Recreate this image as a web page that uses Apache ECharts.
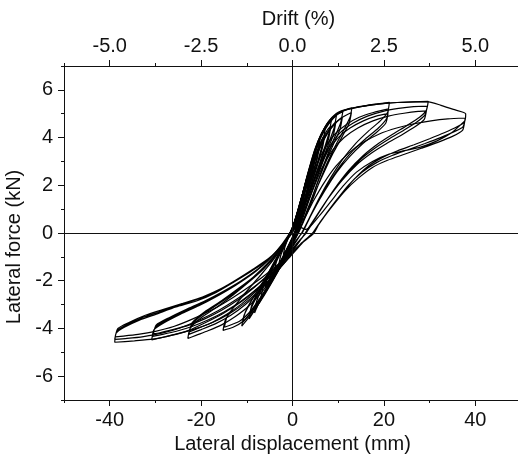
<!DOCTYPE html>
<html>
<head>
<meta charset="utf-8">
<script src="https://cdn.jsdelivr.net/npm/echarts@6/dist/echarts.min.js"></script>
<style>
  html, body { margin: 0; padding: 0; background: #fff; }
  #chart { width: 518px; height: 459px; }
</style>
</head>
<body>
<div id="chart"></div>
<script>
// Cyclic lateral load test: displacement (mm) vs lateral force (kN), one path per amplitude level.
const loop02mm = [[0,0],[0.8,0.6],[1.5,1.05],[2.0,1.3],[1.7,0.95],[1.1,0.45],[0.5,0],[-0.4,-0.35],[-1.3,-0.7],[-2.0,-0.95],[-1.7,-0.6],[-1.0,-0.25],[-0.4,0.05],
  [0.6,0.5],[1.4,0.95],[2.0,1.2],[1.6,0.85],[0.9,0.3],[0.4,0],[-0.6,-0.4],[-1.4,-0.72],[-2.0,-0.9],[-1.6,-0.55],[-0.9,-0.2],[-0.3,0.05]];

const loop03mm = [[-0.2,0.05],[0.7,0.65],[1.6,1.25],[2.4,1.75],[3.0,2.1],[2.6,1.6],[1.8,0.95],[0.9,0.3],[0.4,0],[-0.7,-0.5],[-1.8,-0.95],[-2.5,-1.2],[-3.0,-1.38],[-2.6,-0.95],[-1.6,-0.5],[-0.6,-0.05],[0.2,0.3],
  [1.0,0.85],[1.9,1.4],[2.5,1.75],[3.0,1.98],[2.5,1.45],[1.6,0.8],[0.8,0.2],[0.3,-0.05],[-0.8,-0.55],[-1.9,-0.98],[-3.0,-1.32],[-2.5,-0.9],[-1.5,-0.45],[-0.5,0],[0,0.15]];

const loop04mm = [[-0.3,0.05],[0.8,0.7],[2.0,1.5],[3.2,2.2],[4.0,2.7],[3.6,2.2],[2.6,1.4],[1.5,0.6],[0.6,0],[-0.8,-0.55],[-2.2,-1.05],[-3.3,-1.4],[-4.0,-1.65],[-3.5,-1.2],[-2.3,-0.7],[-1.0,-0.2],[-0.2,0.1],
  [1.0,0.75],[2.2,1.5],[3.3,2.1],[4.0,2.5],[3.5,2.0],[2.4,1.2],[1.3,0.45],[0.5,0],[-1.0,-0.6],[-2.4,-1.1],[-3.4,-1.42],[-4.0,-1.58],[-3.4,-1.1],[-2.1,-0.6],[-0.9,-0.15],[-0.2,0.1]];

const loop05mm = [[0,0.15],[1.0,0.8],[2.2,1.65],[3.4,2.45],[4.3,3.0],[5.0,3.35],[4.5,2.8],[3.5,2.0],[2.3,1.1],[1.2,0.35],[0.6,0],[-0.9,-0.6],[-2.3,-1.15],[-3.6,-1.6],[-4.4,-1.85],[-5.0,-2.0],[-4.4,-1.5],[-3.1,-0.95],[-1.7,-0.45],[-0.5,0],[0.2,0.3],
  [1.3,0.95],[2.5,1.75],[3.6,2.45],[4.4,2.9],[5.0,3.15],[4.4,2.55],[3.3,1.75],[2.1,0.9],[1.0,0.2],[0.5,0],[-1.0,-0.62],[-2.5,-1.2],[-3.8,-1.62],[-5.0,-1.95],[-4.3,-1.42],[-2.9,-0.85],[-1.5,-0.35],[-0.4,0.05],[0.1,0.25]];

const loop06mm = [[-0.2,0.1],[1.2,0.9],[2.6,1.9],[4.0,2.85],[5.2,3.5],[6.0,3.9],[5.5,3.3],[4.3,2.4],[2.9,1.4],[1.5,0.5],[0.7,0],[-1.0,-0.6],[-2.6,-1.2],[-4.2,-1.75],[-5.3,-2.1],[-6.0,-2.3],[-5.4,-1.8],[-3.9,-1.2],[-2.2,-0.6],[-0.8,-0.1],[0,0.2],
  [1.4,1.0],[2.8,1.95],[4.2,2.8],[5.3,3.35],[6.0,3.7],[5.4,3.1],[4.1,2.2],[2.7,1.2],[1.4,0.4],[0.6,0],[-1.2,-0.65],[-2.9,-1.3],[-4.5,-1.82],[-6.0,-2.22],[-5.3,-1.7],[-3.7,-1.1],[-2.0,-0.5],[-0.6,0],[0.1,0.25]];

const loop07mm = [[0.1,0.2],[1.4,1.05],[2.8,2.05],[4.2,3.0],[5.5,3.8],[6.4,4.2],[7.2,4.45],[6.7,3.85],[5.6,3.05],[4.2,2.15],[2.8,1.2],[1.5,0.4],[0.8,0],[-0.8,-0.65],[-2.5,-1.3],[-4.2,-1.9],[-5.7,-2.4],[-7.0,-2.8],[-6.4,-2.25],[-4.8,-1.6],[-3.0,-0.95],[-1.4,-0.35],[-0.3,0.1],
  [1.2,0.85],[2.7,1.85],[4.2,2.8],[5.6,3.55],[6.5,3.95],[7.1,4.15],[6.6,3.6],[5.4,2.8],[4.0,1.95],[2.6,1.05],[1.4,0.3],[0.8,0],[-0.9,-0.68],[-2.7,-1.35],[-4.5,-1.95],[-6.0,-2.45],[-6.9,-2.7],[-6.2,-2.15],[-4.6,-1.5],[-2.8,-0.88],[-1.2,-0.3],[-0.1,0.15]];

const loop08mm = [[0.1,0.25],[1.5,1.1],[3.0,2.15],[4.5,3.1],[6.0,3.95],[7.3,4.45],[8.5,4.72],[8.0,4.2],[6.8,3.45],[5.3,2.55],[3.7,1.6],[2.2,0.7],[1.0,0],
  [-0.8,-0.7],[-2.6,-1.35],[-4.4,-1.95],[-6.2,-2.55],[-7.5,-3.0],[-8.3,-3.35],[-7.9,-2.9],[-6.6,-2.3],[-4.8,-1.6],[-3.0,-0.95],[-1.3,-0.3],[-0.2,0.15],
  [1.3,0.9],[2.9,1.95],[4.5,2.95],[6.0,3.7],[7.4,4.25],[8.4,4.5],[7.9,3.95],[6.5,3.15],[5.0,2.3],[3.4,1.4],[1.9,0.55],[0.9,0],
  [-0.9,-0.7],[-2.8,-1.4],[-4.7,-2.0],[-6.5,-2.6],[-8.2,-3.2],[-7.7,-2.75],[-6.3,-2.15],[-4.5,-1.5],[-2.7,-0.85],[-1.1,-0.25],[0,0.2]];

const loop09mm = [[0,0.2],[1.5,1.12],[3.0,2.2],[4.6,3.2],[6.1,4.0],[7.4,4.5],[8.6,4.78],[9.6,4.92],[9.1,4.4],[7.8,3.7],[6.2,2.85],[4.5,1.9],[2.9,1.0],[1.6,0.3],[1.0,0],
  [-0.7,-0.7],[-2.5,-1.35],[-4.4,-2.0],[-6.3,-2.6],[-8.0,-3.15],[-9.5,-3.6],[-9.0,-3.15],[-7.5,-2.55],[-5.6,-1.9],[-3.7,-1.2],[-1.9,-0.55],[-0.5,0],[0.2,0.2],
  [1.6,1.0],[3.2,2.05],[4.8,3.0],[6.4,3.75],[7.9,4.3],[9.5,4.68],[9.0,4.15],[7.6,3.45],[5.9,2.6],[4.2,1.7],[2.6,0.8],[1.4,0.15],[1.0,0],
  [-0.8,-0.7],[-2.7,-1.38],[-4.7,-2.05],[-6.7,-2.65],[-8.5,-3.15],[-9.4,-3.42],[-8.8,-2.95],[-7.2,-2.35],[-5.2,-1.7],[-3.2,-1.0],[-1.5,-0.4],[-0.2,0.1]];

const loop11mm = [[0,0.2],[1.5,1.15],[3.1,2.3],[4.7,3.3],[6.2,4.05],[7.6,4.6],[9.2,4.92],[11.0,5.08],[10.5,4.6],[9.2,4.0],[7.5,3.2],[5.6,2.2],[3.8,1.25],[2.1,0.4],[1.2,0],
  [-0.6,-0.7],[-2.4,-1.35],[-4.3,-2.0],[-6.3,-2.65],[-8.2,-3.2],[-9.8,-3.6],[-11.1,-3.9],[-10.6,-3.45],[-9.0,-2.85],[-7.0,-2.2],[-4.9,-1.55],[-2.9,-0.9],[-1.2,-0.25],[-0.1,0.15],
  [1.4,0.95],[3.0,2.0],[4.7,3.0],[6.3,3.75],[8.0,4.3],[9.6,4.65],[10.9,4.85],[10.4,4.35],[8.9,3.7],[7.1,2.9],[5.2,1.95],[3.4,1.0],[1.9,0.3],[1.1,0],
  [-0.8,-0.7],[-2.7,-1.4],[-4.7,-2.05],[-6.8,-2.7],[-8.8,-3.25],[-10.9,-3.75],[-10.3,-3.3],[-8.6,-2.7],[-6.5,-2.05],[-4.3,-1.35],[-2.3,-0.7],[-0.7,-0.1],[0.1,0.2]];

const loop14mm = [[0.1,0.2],[1.6,1.2],[3.2,2.4],[4.8,3.45],[6.3,4.15],[7.8,4.65],[9.5,5.0],[11.2,5.15],[13.0,5.25],[12.6,4.85],[11.3,4.35],[9.5,3.7],[7.5,2.9],[5.5,1.95],[3.6,1.0],[2.0,0.3],[1.3,0],
  [-0.5,-0.65],[-2.3,-1.3],[-4.3,-1.95],[-6.5,-2.65],[-8.7,-3.25],[-10.8,-3.7],[-13.0,-3.95],[-15.2,-4.08],[-14.7,-3.65],[-12.8,-3.1],[-10.3,-2.5],[-7.6,-1.9],[-5.0,-1.3],[-2.6,-0.7],[-0.9,-0.15],[0.1,0.2],
  [1.6,1.0],[3.3,2.1],[5.0,3.1],[6.7,3.85],[8.5,4.4],[10.5,4.8],[12.9,5.05],[12.4,4.6],[10.9,4.05],[8.9,3.35],[6.8,2.5],[4.7,1.6],[2.9,0.75],[1.5,0.1],[1.0,0],
  [-0.7,-0.68],[-2.6,-1.35],[-4.7,-2.0],[-7.0,-2.7],[-9.3,-3.3],[-11.6,-3.7],[-14.9,-3.95],[-14.3,-3.5],[-12.2,-2.95],[-9.6,-2.35],[-6.9,-1.75],[-4.3,-1.15],[-2.1,-0.55],[-0.6,-0.05],[0.2,0.2]];

const loop22mm = [[0.2,0.2],[1.7,1.25],[3.4,2.5],[5.0,3.55],[6.6,4.25],[8.3,4.75],[10.2,5.05],[12.5,5.2],[15.0,5.3],[18.0,5.4],[21.2,5.48],
  [20.8,5.05],[19.2,4.7],[16.5,4.25],[13.8,3.75],[11.0,3.1],[8.3,2.3],[5.8,1.45],[3.6,0.6],[2.0,0],
  [0.3,-0.5],[-1.7,-1.15],[-4.0,-1.8],[-6.6,-2.45],[-9.5,-3.05],[-12.5,-3.5],[-15.5,-3.85],[-18.5,-4.1],[-21.0,-4.28],[-22.9,-4.42],
  [-22.4,-4.0],[-20.0,-3.55],[-16.5,-3.1],[-13.0,-2.6],[-9.5,-2.05],[-6.3,-1.5],[-3.5,-0.9],[-1.3,-0.3],[0,0.15],
  [1.6,0.85],[3.4,1.85],[5.3,2.85],[7.2,3.6],[9.3,4.15],[11.8,4.55],[14.6,4.85],[17.7,5.05],[21.0,5.2],
  [20.6,4.8],[18.8,4.4],[16.0,3.95],[13.2,3.45],[10.4,2.8],[7.7,2.0],[5.2,1.15],[3.1,0.4],[2.0,0],
  [0.3,-0.45],[-1.9,-1.15],[-4.4,-1.8],[-7.2,-2.45],[-10.3,-3.0],[-13.5,-3.45],[-16.8,-3.8],[-20.0,-4.05],[-22.7,-4.25],
  [-22.1,-3.85],[-19.5,-3.4],[-16.0,-2.95],[-12.4,-2.45],[-9.0,-1.95],[-5.9,-1.4],[-3.2,-0.8],[-1.1,-0.2],[0.2,0.15],
  [1.9,0.8],[3.8,1.75],[5.8,2.7],[7.8,3.45],[10.0,4.0],[12.6,4.4],[15.5,4.7],[18.3,4.9],[20.9,5.0],
  [20.4,4.6],[18.3,4.2],[15.4,3.75],[12.5,3.2],[9.7,2.55],[7.0,1.75],[4.6,0.95],[2.8,0.25],[2.1,0],
  [0.4,-0.4],[-2.1,-1.1],[-4.8,-1.75],[-7.8,-2.4],[-11.0,-2.95],[-14.3,-3.4],[-17.6,-3.75],[-20.5,-3.98],[-22.6,-4.15],
  [-21.9,-3.75],[-19.2,-3.3],[-15.6,-2.85],[-12.0,-2.35],[-8.6,-1.85],[-5.6,-1.3],[-2.9,-0.7],[-0.9,-0.15],[0.3,0.15]];

const loop30mm = [[0.3,0.15],[1.8,1.25],[3.5,2.5],[5.2,3.6],[6.9,4.3],[8.7,4.8],[10.8,5.1],[13.3,5.25],[16.5,5.35],[19.8,5.42],[23.0,5.47],[26.4,5.5],[29.7,5.52],
  [29.3,5.15],[27.8,4.85],[25.0,4.5],[22.0,4.15],[18.8,3.75],[15.5,3.25],[12.2,2.6],[9.0,1.8],[6.2,1.0],[3.8,0.3],[2.8,0],
  [1.0,-0.5],[-1.3,-1.15],[-4.0,-1.75],[-7.0,-2.35],[-10.5,-2.95],[-14.0,-3.4],[-17.5,-3.75],[-21.0,-4.0],[-24.5,-4.2],[-27.8,-4.35],[-30.8,-4.48],
  [-30.3,-4.05],[-28.0,-3.75],[-24.5,-3.4],[-20.5,-3.05],[-16.5,-2.65],[-12.5,-2.2],[-8.7,-1.7],[-5.3,-1.15],[-2.4,-0.5],[-0.4,0.05],[0.5,0.3],
  [2.0,0.85],[3.9,1.85],[5.9,2.85],[8.0,3.6],[10.4,4.2],[13.2,4.6],[16.4,4.9],[19.8,5.1],[23.2,5.22],[26.5,5.3],[29.5,5.32],
  [29.0,4.95],[27.2,4.65],[24.3,4.3],[21.2,3.95],[18.0,3.55],[14.7,3.05],[11.4,2.4],[8.3,1.6],[5.6,0.8],[3.5,0.15],[3.0,0],
  [1.0,-0.45],[-1.5,-1.1],[-4.4,-1.7],[-7.6,-2.3],[-11.2,-2.85],[-14.9,-3.3],[-18.5,-3.65],[-22.0,-3.92],[-25.4,-4.12],[-28.4,-4.25],[-30.6,-4.33],
  [-30.0,-3.95],[-27.5,-3.65],[-23.8,-3.3],[-19.8,-2.95],[-15.8,-2.55],[-11.8,-2.1],[-8.0,-1.6],[-4.8,-1.05],[-2.0,-0.45],[0,0.05],[0.8,0.3],
  [2.3,0.8],[4.3,1.75],[6.4,2.7],[8.7,3.45],[11.3,4.0],[14.3,4.4],[17.6,4.7],[21.0,4.9],[24.4,5.02],[27.5,5.1],[29.3,5.12],
  [28.8,4.75],[26.8,4.45],[23.8,4.1],[20.6,3.75],[17.3,3.35],[14.0,2.85],[10.8,2.2],[7.8,1.45],[5.2,0.7],[3.3,0.1],[3.0,0],
  [1.1,-0.4],[-1.7,-1.05],[-4.8,-1.65],[-8.2,-2.25],[-11.9,-2.8],[-15.6,-3.25],[-19.2,-3.6],[-22.8,-3.87],[-26.2,-4.05],[-29.0,-4.18],[-30.5,-4.22],
  [-29.8,-3.85],[-27.0,-3.55],[-23.2,-3.2],[-19.2,-2.85],[-15.2,-2.45],[-11.2,-2.0],[-7.5,-1.5],[-4.3,-0.95],[-1.7,-0.4],[0.2,0.1],[1.0,0.3]];

const loop38mm = [[0.4,0.15],[1.9,1.25],[3.6,2.5],[5.3,3.6],[7.0,4.3],[8.9,4.8],[11.0,5.1],[13.6,5.25],[16.8,5.35],[20.2,5.43],[23.8,5.48],[27.0,5.5],[29.8,5.5],[32.5,5.35],[35.2,5.18],[37.9,5.0],
  [37.6,4.65],[36.0,4.45],[33.2,4.2],[30.0,3.95],[26.6,3.7],[23.0,3.45],[19.5,3.15],[16.2,2.75],[13.0,2.15],[10.0,1.45],[7.2,0.75],[4.8,0.1],[4.4,0],
  [2.0,-0.45],[-0.8,-1.05],[-3.8,-1.65],[-7.2,-2.25],[-11.0,-2.85],[-15.0,-3.35],[-19.0,-3.75],[-23.0,-4.1],[-26.8,-4.3],[-30.6,-4.45],[-34.6,-4.52],[-38.9,-4.58],
  [-38.6,-4.2],[-36.8,-3.95],[-33.5,-3.65],[-29.8,-3.4],[-25.5,-3.1],[-21.0,-2.85],[-16.8,-2.5],[-12.8,-2.05],[-9.0,-1.6],[-5.5,-1.15],[-2.5,-0.55],[-0.5,-0.05],[0.6,0.3],
  [2.5,0.6],[4.6,1.35],[6.9,2.1],[9.5,2.8],[12.3,3.35],[15.5,3.8],[19.0,4.15],[22.8,4.4],[26.6,4.58],[30.3,4.7],[34.0,4.78],[37.8,4.82],
  [37.3,4.45],[35.4,4.25],[32.4,4.0],[29.0,3.75],[25.4,3.5],[21.8,3.25],[18.4,2.95],[15.2,2.55],[12.2,2.0],[9.3,1.3],[6.6,0.6],[4.6,0.05],[4.5,0],
  [2.1,-0.4],[-0.9,-1.0],[-4.2,-1.6],[-8.0,-2.2],[-12.0,-2.75],[-16.2,-3.25],[-20.4,-3.65],[-24.6,-3.98],[-28.6,-4.2],[-32.6,-4.34],[-36.2,-4.42],[-38.9,-4.46],
  [-38.4,-4.1],[-36.3,-3.85],[-32.9,-3.55],[-29.0,-3.3],[-24.8,-3.02],[-20.4,-2.75],[-16.2,-2.4],[-12.2,-1.95],[-8.5,-1.5],[-5.1,-1.05],[-2.2,-0.5],[-0.2,0],[0.8,0.3],
  [3.0,0.15],[6.0,0.75],[8.5,1.35],[11.0,1.95],[14.0,2.55],[17.5,3.0],[21.0,3.3],[24.5,3.45],[28.0,3.6],[31.5,3.85],[34.8,4.2],[37.7,4.7],
  [37.2,4.3],[35.0,4.05],[31.8,3.8],[28.2,3.55],[24.5,3.3],[20.8,3.05],[17.5,2.75],[14.4,2.3],[11.4,1.75],[8.6,1.1],[6.0,0.45],[4.7,0],
  [2.2,-0.4],[-1.0,-0.95],[-4.6,-1.55],[-8.7,-2.15],[-13.0,-2.7],[-17.4,-3.2],[-21.8,-3.6],[-26.0,-3.92],[-30.0,-4.12],[-33.8,-4.25],[-37.0,-4.32],[-38.8,-4.35],
  [-38.2,-4.0],[-35.8,-3.75],[-32.2,-3.45],[-28.2,-3.2],[-24.0,-2.95],[-19.7,-2.68],[-15.6,-2.33],[-11.7,-1.9],[-8.0,-1.45],[-4.7,-1.0],[-1.9,-0.45],[0,0]];

// Axis ticks
const dispMajorTicks = [-40, -20, 0, 20, 40];
const dispMinorTicks = [-50, -30, -10, 10, 30, 50];
const forceMajorTicks = [-6, -4, -2, 0, 2, 4, 6];
const forceMinorTicks = [-7, -5, -3, -1, 1, 3, 5, 7];
const driftPerMm = 5.0 / 40; // 40 mm of displacement = 5.0 % drift

const loops = [loop02mm, loop03mm, loop04mm, loop05mm, loop06mm, loop07mm, loop08mm, loop09mm,
  loop11mm, loop14mm, loop22mm, loop30mm, loop38mm];

const FONT = 'Liberation Sans, Arial, Helvetica, sans-serif';
const INK = '#111';
const textStyle = { fontFamily: FONT, fontSize: 20, color: INK };

function xAxisDef(pos, opts) {
  return Object.assign({
    type: 'value', position: pos, min: -50, max: 50,
    splitLine: { show: false },
    axisLine: { show: true, onZero: false, lineStyle: { color: INK, width: 1 } },
    axisTick: { show: true, inside: false, length: 6, customValues: dispMajorTicks, lineStyle: { color: INK } },
    axisLabel: { show: true, customValues: dispMajorTicks, margin: 10, fontFamily: FONT, fontSize: 20, color: INK }
  }, opts);
}

const chart = echarts.init(document.getElementById('chart'), null, { renderer: 'canvas' });
chart.setOption({
  animation: false,
  backgroundColor: '#fff',
  grid: { left: 64, top: 66, right: -3, bottom: 59, containLabel: false, outerBoundsMode: 'none' },
  xAxis: [
    xAxisDef('bottom', {
      name: 'Lateral displacement (mm)', nameLocation: 'middle', nameGap: 33,
      nameTextStyle: textStyle
    }),
    xAxisDef('top', {
      name: 'Drift (%)', nameLocation: 'middle', nameGap: 37,
      nameTextStyle: Object.assign({ padding: [0, 0, 0, 12] }, textStyle),
      axisLabel: { show: true, customValues: dispMajorTicks, margin: 10, fontFamily: FONT, fontSize: 20, color: INK,
        formatter: v => (v * driftPerMm).toFixed(1) }
    }),
    // minor ticks
    xAxisDef('bottom', { axisLine: { show: false, onZero: false }, axisLabel: { show: false },
      axisTick: { show: true, length: 3, customValues: dispMinorTicks, lineStyle: { color: INK } } }),
    xAxisDef('top', { axisLine: { show: false, onZero: false }, axisLabel: { show: false },
      axisTick: { show: true, length: 3, customValues: dispMinorTicks, lineStyle: { color: INK } } })
  ],
  yAxis: [
    {
      type: 'value', position: 'left', min: -7, max: 7,
      name: 'Lateral force (kN)', nameLocation: 'middle', nameGap: 34, nameRotate: 90,
      nameTextStyle: Object.assign({ padding: [0, 28, 0, 0] }, textStyle),
      splitLine: { show: false },
      axisLine: { show: true, onZero: false, lineStyle: { color: INK, width: 1 } },
      axisTick: { show: true, length: 6, customValues: forceMajorTicks, lineStyle: { color: INK } },
      axisLabel: { show: true, customValues: forceMajorTicks, margin: 11, fontFamily: FONT, fontSize: 20, color: INK }
    },
    {
      type: 'value', position: 'left', min: -7, max: 7,
      splitLine: { show: false },
      axisLine: { show: false, onZero: false },
      axisTick: { show: true, length: 3, customValues: forceMinorTicks, lineStyle: { color: INK } },
      axisLabel: { show: false }
    }
  ],
  series: [
    {
      type: 'line', xAxisIndex: 0, yAxisIndex: 0, data: [], silent: true,
      markLine: {
        silent: true, symbol: 'none', animation: false,
        label: { show: false },
        lineStyle: { color: INK, width: 1, type: 'solid' },
        data: [{ xAxis: 0 }, { yAxis: 0 }]
      }
    }
  ].concat(loops.map(d => ({
    type: 'line', xAxisIndex: 0, yAxisIndex: 0, data: d,
    showSymbol: false, smooth: 0.2, silent: true,
    lineStyle: { color: '#000', width: 1.2 }
  })))
});
</script>
</body>
</html>
